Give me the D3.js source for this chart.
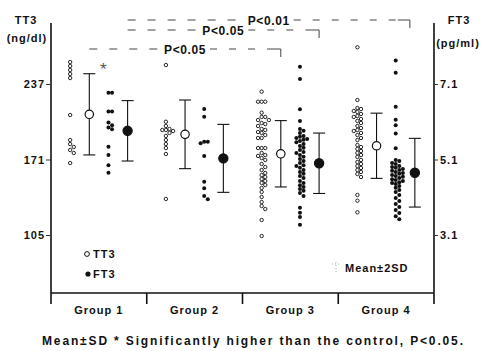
<!DOCTYPE html>
<html><head><meta charset="utf-8">
<script src="https://cdn.jsdelivr.net/npm/d3@7"></script>
<style>
html,body{margin:0;padding:0;background:#fff;}
svg{display:block;font-family:"Liberation Sans",Arial,Helvetica,sans-serif;font-weight:bold;}
</style></head><body>
<svg id="c" width="482" height="351"></svg>
<script>
// ---------- data ----------
const groups = ["Group 1", "Group 2", "Group 3", "Group 4"];

// individual TT3 values (ng/dl)
const tt3G1 = [256.2, 252.7, 249.2, 245.7, 242.2, 209.9, 188.0, 184.5, 181.9, 179.3, 176.7, 167.9];
const tt3G2 = [253.6, 204.0, 200.3, 197.7, 196.8, 196.8, 195.9, 194.2, 191.6, 188.0, 184.5, 181.0, 175.8, 136.5];
const tt3G3 = [230.3, 221.5, 221.5, 221.5, 211.9, 208.2, 208.2, 205.5, 205.5, 202.9, 202.0, 200.3, 197.7, 196.8,
  195.0, 194.2, 192.4, 189.8, 189.8, 181.0, 181.0, 181.0, 176.7, 174.9, 174.1, 172.3, 170.6, 167.1, 164.4, 161.8,
  159.2, 157.4, 155.7, 153.9, 152.2, 150.5, 148.7, 146.1, 142.6, 138.2, 133.8, 130.3, 127.7, 118.1, 104.1];
const tt3G4 = [269.1, 223.0, 216.0, 215.1, 213.4, 212.5, 210.8, 209.0, 208.2, 206.4, 204.7, 202.9, 200.3, 198.5,
  196.8, 195.9, 194.2, 192.4, 189.8, 188.0, 183.7, 181.9, 180.2, 178.4, 176.7, 174.9, 173.2, 170.6, 168.8, 167.1,
  165.3, 163.6, 161.8, 160.1, 158.3, 155.7, 140.0, 135.0, 124.8];

// individual FT3 values (pg/ml)
const ft3G1 = [6.87, 6.87, 6.37, 6.37, 6.08, 6.01, 5.95, 5.90, 5.44, 5.22, 4.95, 4.75];
const ft3G2 = [6.44, 6.23, 5.57, 5.57, 5.53, 5.19, 4.51, 4.34, 4.13, 4.05];
const ft3G3 = [7.56, 7.23, 6.43, 6.12, 5.91, 5.86, 5.80, 5.72, 5.70, 5.67, 5.64, 5.62, 5.59, 5.56, 5.51, 5.46,
  5.41, 5.35, 5.30, 5.27, 5.22, 5.17, 5.11, 5.06, 5.01, 4.95, 4.93, 4.88, 4.82, 4.77, 4.72, 4.66, 4.61, 4.53,
  4.48, 4.42, 4.37, 4.32, 4.27, 4.21, 4.13, 3.82, 3.69, 3.58, 3.37];
const ft3G4 = [7.72, 7.40, 6.50, 6.15, 6.01, 5.79, 5.40, 5.09, 5.06, 5.01, 4.98, 4.93, 4.90, 4.88, 4.85, 4.82,
  4.80, 4.77, 4.74, 4.72, 4.69, 4.66, 4.64, 4.61, 4.58, 4.56, 4.53, 4.50, 4.48, 4.45, 4.40, 4.35, 4.29, 4.24,
  4.16, 4.08, 4.00, 3.92, 3.84, 3.76, 3.68, 3.60, 3.52];

const tt3Values = [tt3G1, tt3G2, tt3G3, tt3G4];
const ft3Values = [ft3G1, ft3G2, ft3G3, ft3G4];

// summary bars (mean and half-length of the bar)
const tt3Mean = [210.5, 193.0, 176.0, 183.0];
const tt3Dev  = [35.5, 30.0, 29.0, 28.5];
const ft3Mean = [5.86, 5.13, 5.00, 4.75];
const ft3Dev  = [0.80, 0.90, 0.80, 0.91];

const tt3Ticks = [105, 171, 237];
const ft3Ticks = [3.1, 5.1, 7.1];

const comparisons = [
  {label: "P<0.05", series: "TT3", from: 0, to: 2},
  {label: "P<0.05", series: "FT3", from: 0, to: 2},
  {label: "P<0.01", series: "FT3", from: 0, to: 3}
];
const starredGroups = [0];

const footnote = "Mean\u00b1SD * Significantly higher than the control, P<0.05.";

// ---------- layout ----------
const svg = d3.select("#c");
const plotTop = 23, plotBottom = 293, tickBottom = 304;
const xLeft = 51, xRight = 434;

const x = d3.scaleBand().domain(groups).range([xLeft, xRight]).paddingInner(0).paddingOuter(0);
const bw = x.bandwidth();
const pos = {tt3Dots: 0.2, tt3Mean: 0.4, ft3Dots: 0.6, ft3Mean: 0.8};
const yL = d3.scaleLinear().domain([105, 237]).range([235, 84]);
const yR = d3.scaleLinear().domain([3.1, 7.1]).range([235, 84]);

const ink = "#111";

// frame
svg.append("line").attr("x1", xLeft).attr("x2", xLeft).attr("y1", plotTop).attr("y2", tickBottom)
  .attr("stroke", ink).attr("stroke-width", 1.6);
svg.append("line").attr("x1", xRight).attr("x2", xRight).attr("y1", plotTop).attr("y2", tickBottom)
  .attr("stroke", ink).attr("stroke-width", 1.6);
svg.append("line").attr("x1", xLeft).attr("x2", xRight).attr("y1", plotBottom).attr("y2", plotBottom)
  .attr("stroke", ink).attr("stroke-width", 1.6);
groups.slice(1).forEach(g => {
  svg.append("line").attr("x1", x(g)).attr("x2", x(g)).attr("y1", plotBottom).attr("y2", tickBottom)
    .attr("stroke", ink).attr("stroke-width", 1.6);
});

// axes
const axL = svg.append("g").attr("transform", `translate(${xLeft},0)`)
  .call(d3.axisLeft(yL).tickValues(tt3Ticks).tickFormat(d3.format("d")).tickSize(5).tickPadding(1));
const axR = svg.append("g").attr("transform", `translate(${xRight},0)`)
  .call(d3.axisRight(yR).tickValues(ft3Ticks).tickFormat(d3.format(".1f")).tickSize(4).tickPadding(2));
[axL, axR].forEach(a => {
  a.select(".domain").remove();
  a.selectAll(".tick line").attr("stroke", "#333").attr("stroke-width", 1);
  a.selectAll(".tick text").attr("fill", ink).style("font-size", "11px").style("font-weight", "bold")
    .style("letter-spacing", "1px").style("font-family", "'Liberation Sans',Arial,sans-serif");
});

// axis titles
function txt(s, xx, yy, size, anchor, ls) {
  return svg.append("text").attr("x", xx).attr("y", yy).attr("text-anchor", anchor || "start")
    .attr("fill", ink).style("font-size", size + "px").style("letter-spacing", (ls == null ? 1 : ls) + "px").text(s);
}
txt("TT3", 26, 24, 11, "middle");
txt("(ng/dl)", 27, 42, 11, "middle");
txt("FT3", 459, 24, 11, "middle");
txt("(pg/ml)", 458, 47, 11, "middle");

// group labels
groups.forEach(g => txt(g, x(g) + bw / 2, 314, 11, "middle", 1));

// beeswarm placement
function swarm(values, scale, cx, minDist, step) {
  const pts = values.map(v => ({v, y: scale(v)})).sort((a, b) => a.y - b.y);
  const placed = [];
  pts.forEach(p => {
    for (let k = 0; k < 30; k++) {
      const off = k === 0 ? 0 : (k % 2 === 1 ? 1 : -1) * Math.ceil(k / 2) * step;
      const xx = cx + off;
      if (!placed.some(q => Math.hypot(q.x - xx, q.y - p.y) < minDist)) {
        p.x = xx; placed.push(p); break;
      }
    }
  });
  return placed;
}

groups.forEach((g, i) => {
  const x0 = x(g);
  // TT3 individual (open)
  svg.append("g").selectAll("circle").data(swarm(tt3Values[i], yL, x0 + bw * pos.tt3Dots, 3.4, 3.6))
    .join("circle").attr("cx", d => d.x).attr("cy", d => d.y).attr("r", 1.7)
    .attr("fill", "#fff").attr("stroke", ink).attr("stroke-width", 0.9);
  // FT3 individual (filled)
  svg.append("g").selectAll("circle").data(swarm(ft3Values[i], yR, x0 + bw * pos.ft3Dots, 3.4, 3.6))
    .join("circle").attr("cx", d => d.x).attr("cy", d => d.y).attr("r", 2)
    .attr("fill", ink);

  // error bars
  const bars = [
    {cx: x0 + bw * pos.tt3Mean, m: tt3Mean[i], d: tt3Dev[i], s: yL, open: true},
    {cx: x0 + bw * pos.ft3Mean, m: ft3Mean[i], d: ft3Dev[i], s: yR, open: false}
  ];
  bars.forEach(b => {
    const yt = b.s(b.m + b.d), yb = b.s(b.m - b.d), ym = b.s(b.m);
    svg.append("line").attr("x1", b.cx).attr("x2", b.cx).attr("y1", yt).attr("y2", yb)
      .attr("stroke", ink).attr("stroke-width", 1.1);
    [yt, yb].forEach(yy => svg.append("line").attr("x1", b.cx - 6).attr("x2", b.cx + 6)
      .attr("y1", yy).attr("y2", yy).attr("stroke", ink).attr("stroke-width", 1.1));
    svg.append("circle").attr("cx", b.cx).attr("cy", ym).attr("r", b.open ? 4.2 : 4.6)
      .attr("fill", b.open ? "#fff" : ink).attr("stroke", ink).attr("stroke-width", 1.2);
  });
});

// asterisk
starredGroups.forEach(i => {
  const g = groups[i];
  svg.append("text").attr("x", x(g) + bw * pos.tt3Mean + 14).attr("y", yL(tt3Mean[i] + tt3Dev[i]) + 1)
    .attr("text-anchor", "middle").attr("fill", "#555").style("font-weight", "normal")
    .style("font-size", "17px").text("*");
});

// significance brackets
const levelY = [49, 30, 20];
comparisons.forEach((c, k) => {
  const px = (gi) => x(groups[gi]) + bw * (c.series === "TT3" ? pos.tt3Mean : pos.ft3Mean);
  const x1 = px(c.from), x2 = px(c.to) - (k === 2 ? 5 : 0);
  const yy = levelY[k];
  const cxm = (x1 + x2) / 2;
  const t = svg.append("text").attr("x", cxm).attr("y", yy + 4.5).attr("text-anchor", "middle")
    .attr("fill", ink).style("font-size", "12px").style("letter-spacing", "0.6px").text(c.label);
  const w = t.node().getComputedTextLength();
  const g = svg.append("g").attr("stroke", "#444").attr("stroke-width", 1);
  g.append("line").attr("x1", x1).attr("x2", cxm - w / 2 - 4).attr("y1", yy).attr("y2", yy)
    .attr("stroke-dasharray", "8,12");
  g.append("line").attr("x1", cxm + w / 2 + 4).attr("x2", x2 - 12).attr("y1", yy).attr("y2", yy)
    .attr("stroke-dasharray", "7,12");
  g.append("path").attr("fill", "none")
    .attr("d", `M${x2 - 12},${yy}H${x2}V${yy + 8}`);
});

// legend
svg.append("circle").attr("cx", 87).attr("cy", 254).attr("r", 2.4).attr("fill", "#fff")
  .attr("stroke", ink).attr("stroke-width", 1);
txt("TT3", 93, 258, 11, "start");
svg.append("circle").attr("cx", 88).attr("cy", 274).attr("r", 2.6).attr("fill", ink);
txt("FT3", 93, 278, 11, "start");

// Mean±2SD legend
const lg = svg.append("g").attr("stroke", "#aaa").attr("stroke-width", 1).attr("stroke-dasharray", "1,2");
lg.append("line").attr("x1", 336).attr("x2", 336).attr("y1", 262).attr("y2", 272);
lg.append("line").attr("x1", 332).attr("x2", 340).attr("y1", 264).attr("y2", 264);
txt("Mean\u00b12SD", 345, 272, 11, "start");

// footnote
svg.append("text").attr("x", 42).attr("y", 345).attr("fill", ink).style("font-size", "12px")
  .attr("textLength", 421).attr("lengthAdjust", "spacing").text(footnote);
</script>
</body></html>
